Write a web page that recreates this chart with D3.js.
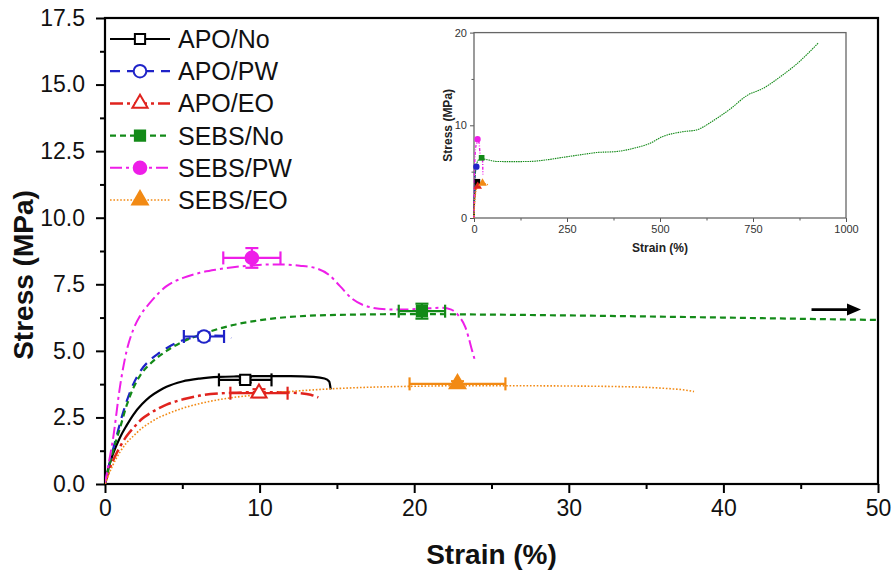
<!DOCTYPE html>
<html>
<head>
<meta charset="utf-8">
<script src="https://cdn.jsdelivr.net/npm/d3@7"></script>
<style>
  body { margin: 0; background: #fff; }
  svg { display: block; font-family: "Liberation Sans", Arial, sans-serif; }
</style>
</head>
<body>
<svg id="chart" width="893" height="572"></svg>
<script>
// ---- data: stress-strain curves (strain in %, stress in MPa) ----
const seriesNames = ["APO/No", "APO/PW", "APO/EO", "SEBS/No", "SEBS/PW", "SEBS/EO"];

const apoNoStrain = [0, 0.2, 0.5, 0.97, 1.4, 1.83, 2.4, 2.9, 3.5, 3.98, 5.0, 6.13, 7.4, 8.5, 10, 12, 13.5, 14.2, 14.5, 14.6];
const apoNoStress = [0, 0.55, 1.1, 1.75, 2.2, 2.6, 3.0, 3.27, 3.5, 3.65, 3.85, 3.96, 4.02, 4.04, 4.05, 4.05, 4.02, 3.96, 3.85, 3.55];

const apoPwStrain = [0, 0.2, 0.45, 0.75, 1.1, 1.4, 1.83, 2.3, 2.9, 3.5, 3.98, 4.5, 5.05, 5.7, 6.4, 7.1, 7.7, 8.17];
const apoPwStress = [0, 0.55, 1.15, 1.8, 2.55, 3.1, 3.75, 4.25, 4.65, 4.92, 5.1, 5.27, 5.4, 5.5, 5.55, 5.57, 5.56, 5.48];

const apoEoStrain = [0, 0.2, 0.5, 0.97, 1.4, 1.83, 2.4, 2.9, 3.5, 3.98, 5.05, 6.13, 7.4, 8.5, 10, 11.5, 12.6, 13.3, 13.8];
const apoEoStress = [0, 0.4, 0.85, 1.4, 1.8, 2.1, 2.45, 2.65, 2.85, 2.98, 3.18, 3.32, 3.4, 3.43, 3.45, 3.44, 3.41, 3.35, 3.25];

const sebsNoStrain = [0, 0.2, 0.5, 0.97, 1.4, 1.83, 2.3, 2.9, 3.5, 3.98, 5.05, 6.13, 7.2, 8.28, 10, 12.6, 16, 20, 25, 30, 40, 50, 60, 100, 150, 200, 240, 300, 329, 383, 437, 470, 508, 560, 598, 643, 690, 733, 778, 822, 867, 926];
const sebsNoStress = [0, 0.5, 1.2, 2.1, 2.95, 3.6, 4.1, 4.5, 4.8, 5.0, 5.35, 5.6, 5.8, 5.97, 6.15, 6.3, 6.36, 6.38, 6.36, 6.33, 6.25, 6.16, 6.1, 6.08, 6.1, 6.3, 6.55, 6.9, 7.06, 7.17, 7.6, 8.0, 8.8, 9.3, 9.5, 10.5, 11.8, 13.2, 14.0, 15.2, 16.6, 18.9];

const sebsPwStrain = [0, 0.2, 0.54, 0.97, 1.4, 1.83, 2.3, 2.9, 3.98, 5.05, 6.13, 7.2, 8.28, 9.35, 10.5, 11.5, 12.6, 13.66, 14.5, 15.2, 16.0, 16.7, 17.3, 18.2, 19.0, 20.5, 21.8, 22.4, 22.9, 23.3, 23.5, 23.75, 23.9];
const sebsPwStress = [0, 0.65, 1.78, 3.66, 5.0, 5.8, 6.35, 6.8, 7.43, 7.74, 7.93, 8.05, 8.14, 8.2, 8.24, 8.24, 8.2, 8.1, 7.85, 7.43, 6.95, 6.72, 6.62, 6.56, 6.55, 6.58, 6.62, 6.55, 6.3, 5.9, 5.54, 5.0, 4.7];

const sebsEoStrain = [0, 0.2, 0.5, 0.97, 1.4, 1.83, 2.4, 2.9, 3.5, 3.98, 5.05, 6.13, 7.2, 8.28, 9.35, 10.5, 12.6, 14.5, 16.9, 20, 23, 26, 30, 33, 35, 36.5, 37.5, 38.1];
const sebsEoStress = [0, 0.3, 0.7, 1.2, 1.55, 1.8, 2.1, 2.3, 2.5, 2.62, 2.85, 3.02, 3.15, 3.25, 3.32, 3.4, 3.5, 3.57, 3.63, 3.67, 3.69, 3.69, 3.68, 3.66, 3.63, 3.58, 3.53, 3.47];

// mean values with standard deviations (order follows seriesNames)
const meanStrain = [9.07, 6.4, 9.96, 20.5, 9.5, 22.8];
const meanStress = [3.91, 5.54, 3.41, 6.49, 8.49, 3.76];
const strainErr = [1.7, 1.3, 1.85, 1.5, 1.85, 3.1];
const stressErr = [0.1, 0.15, 0.15, 0.28, 0.37, 0.1];

// axis ticks
const yTicks = [0, 2.5, 5, 7.5, 10, 12.5, 15, 17.5];
const xTicks = [0, 10, 20, 30, 40, 50];
const insetXTicks = [0, 250, 500, 750, 1000];
const insetYTicks = [0, 10, 20];

// arrow pointing to the continuation of SEBS/No beyond 50 %
const arrowStrain = [45.7, 48.9];
const arrowStress = 6.55;

// ---- styles ----
const seriesStyle = [
  { color: "#000000", dash: null,         width: 2.2, symbol: d3.symbolSquare,   size: 105, filled: false },
  { color: "#1f23c8", dash: "10,7",       width: 2.2, symbol: d3.symbolCircle,   size: 125, filled: false },
  { color: "#e0231e", dash: "13,4,3,4",   width: 2.5, symbol: d3.symbolTriangle, size: 100, filled: false },
  { color: "#138a18", dash: "6,4",        width: 2.2, symbol: d3.symbolSquare,   size: 105, filled: true  },
  { color: "#ee1ee8", dash: "12,4,3,4",   width: 2.0, symbol: d3.symbolCircle,   size: 125, filled: true  },
  { color: "#f28a14", dash: "1.6,1.8",    width: 1.6, symbol: d3.symbolTriangle, size: 105, filled: true  }
];

const curves = [
  [apoNoStrain, apoNoStress],
  [apoPwStrain, apoPwStress],
  [apoEoStrain, apoEoStress],
  [sebsNoStrain, sebsNoStress],
  [sebsPwStrain, sebsPwStress],
  [sebsEoStrain, sebsEoStress]
].map(([xs, ys]) => xs.map((v, i) => [v, ys[i]]));

const svg = d3.select("#chart");

// ---- main plot ----
const x = d3.scaleLinear().domain([0, 50]).range([105, 878]);
const y = d3.scaleLinear().domain([0, 17.5]).range([484, 18]);

svg.append("defs").append("clipPath").attr("id", "mainClip")
  .append("rect")
  .attr("x", x(0)).attr("y", y(17.5))
  .attr("width", x(50) - x(0)).attr("height", y(0) - y(17.5));

// minor ticks
const yMinor = d3.range(1.25, 17.5, 2.5);
const xMinor = d3.range(5, 50, 10);

const yAxis = svg.append("g")
  .attr("transform", `translate(${x(0)},0)`)
  .call(d3.axisLeft(y).tickValues(yTicks).tickFormat(d3.format(".1f")).tickSize(9).tickPadding(11));
const xAxis = svg.append("g")
  .attr("transform", `translate(0,${y(0)})`)
  .call(d3.axisBottom(x).tickValues(xTicks).tickFormat(d3.format("d")).tickSize(9).tickPadding(7));
svg.append("g")
  .attr("transform", `translate(${x(0)},0)`)
  .call(d3.axisLeft(y).tickValues(yMinor).tickFormat("").tickSize(5));
svg.append("g")
  .attr("transform", `translate(0,${y(0)})`)
  .call(d3.axisBottom(x).tickValues(xMinor).tickFormat("").tickSize(5));

svg.selectAll(".domain").remove();
svg.selectAll(".tick line").attr("stroke", "#000").attr("stroke-width", 2);
[yAxis, xAxis].forEach(g => g.selectAll(".tick text")
  .attr("font-size", 23).attr("fill", "#111")
  .attr("font-family", "'Liberation Sans', Arial, sans-serif"));

// frame
svg.append("rect")
  .attr("x", x(0)).attr("y", y(17.5))
  .attr("width", x(50) - x(0)).attr("height", y(0) - y(17.5))
  .attr("fill", "none").attr("stroke", "#000").attr("stroke-width", 2.2);

// axis titles
svg.append("text")
  .attr("x", (x(0) + x(50)) / 2).attr("y", 564)
  .attr("text-anchor", "middle")
  .attr("font-size", 28).attr("font-weight", "bold").attr("fill", "#111")
  .text("Strain (%)");
svg.append("text")
  .attr("transform", `translate(33,${(y(0) + y(17.5)) / 2 + 24}) rotate(-90)`)
  .attr("text-anchor", "middle")
  .attr("font-size", 28).attr("font-weight", "bold").attr("fill", "#111")
  .text("Stress (MPa)");

// curves
const mainLine = d3.line().x(d => x(d[0])).y(d => y(d[1])).curve(d3.curveMonotoneX);
const plotG = svg.append("g").attr("clip-path", "url(#mainClip)");
curves.forEach((pts, i) => {
  const s = seriesStyle[i];
  plotG.append("path")
    .attr("d", mainLine(pts))
    .attr("fill", "none")
    .attr("stroke", s.color)
    .attr("stroke-width", s.width)
    .attr("stroke-dasharray", s.dash);
});

// error bars and markers
const capHalf = 6.5;
seriesNames.forEach((name, i) => {
  const s = seriesStyle[i];
  const g = svg.append("g").attr("stroke", s.color).attr("stroke-width", 2.2);
  const cx = x(meanStrain[i]), cy = y(meanStress[i]);
  const x0 = x(meanStrain[i] - strainErr[i]), x1 = x(meanStrain[i] + strainErr[i]);
  const y0 = y(meanStress[i] - stressErr[i]), y1 = y(meanStress[i] + stressErr[i]);
  g.append("line").attr("x1", x0).attr("x2", x1).attr("y1", cy).attr("y2", cy);
  g.append("line").attr("x1", x0).attr("x2", x0).attr("y1", cy - capHalf).attr("y2", cy + capHalf);
  g.append("line").attr("x1", x1).attr("x2", x1).attr("y1", cy - capHalf).attr("y2", cy + capHalf);
  g.append("line").attr("x1", cx).attr("x2", cx).attr("y1", y0).attr("y2", y1);
  g.append("line").attr("x1", cx - capHalf).attr("x2", cx + capHalf).attr("y1", y0).attr("y2", y0);
  g.append("line").attr("x1", cx - capHalf).attr("x2", cx + capHalf).attr("y1", y1).attr("y2", y1);
  g.append("path")
    .attr("d", d3.symbol().type(s.symbol).size(s.size)())
    .attr("transform", `translate(${cx},${cy})`)
    .attr("fill", s.filled ? s.color : "#fff")
    .attr("stroke-width", 2);
});

// arrow
svg.append("line")
  .attr("x1", x(arrowStrain[0])).attr("x2", x(arrowStrain[1]) - 10)
  .attr("y1", y(arrowStress)).attr("y2", y(arrowStress))
  .attr("stroke", "#000").attr("stroke-width", 2.6);
svg.append("path")
  .attr("d", `M${x(arrowStrain[1])},${y(arrowStress)} l-14,-6 l0,12 z`)
  .attr("fill", "#000");

// legend
const legend = svg.append("g");
seriesNames.forEach((name, i) => {
  const s = seriesStyle[i];
  const ly = 39 + i * 32.2;
  const row = legend.append("g").attr("transform", `translate(0,${ly})`);
  row.append("line")
    .attr("x1", 110).attr("x2", 170).attr("y1", 0).attr("y2", 0)
    .attr("stroke", s.color).attr("stroke-width", s.width)
    .attr("stroke-dasharray", s.dash);
  row.append("path")
    .attr("d", d3.symbol().type(s.symbol).size(s.size)())
    .attr("transform", "translate(140,0)")
    .attr("fill", s.filled ? s.color : "#fff")
    .attr("stroke", s.color).attr("stroke-width", 2);
  row.append("text")
    .attr("x", 178).attr("y", 9)
    .attr("font-size", 25).attr("fill", "#111")
    .text(name);
});

// ---- inset: full strain range ----
const xi = d3.scaleLinear().domain([0, 1000]).range([474, 846]);
const yi = d3.scaleLinear().domain([0, 20]).range([218, 32.6]);
const inset = svg.append("g");

const ixAxis = inset.append("g").attr("transform", `translate(0,${yi(0)})`)
  .call(d3.axisBottom(xi).tickValues(insetXTicks).tickFormat(d3.format("d")).tickSize(4).tickPadding(3));
inset.append("g").attr("transform", `translate(0,${yi(0)})`)
  .call(d3.axisBottom(xi).tickValues(d3.range(125, 1000, 250)).tickFormat("").tickSize(2.5));
const iyAxis = inset.append("g").attr("transform", `translate(${xi(0)},0)`)
  .call(d3.axisLeft(yi).tickValues(insetYTicks).tickFormat(d3.format("d")).tickSize(4).tickPadding(3));
inset.append("g").attr("transform", `translate(${xi(0)},0)`)
  .call(d3.axisLeft(yi).tickValues([5, 15]).tickFormat("").tickSize(2.5));
inset.selectAll(".domain").remove();
inset.selectAll(".tick line").attr("stroke", "#555").attr("stroke-width", 1);
[ixAxis, iyAxis].forEach(g => g.selectAll(".tick text")
  .attr("font-size", 11).attr("fill", "#333")
  .attr("font-family", "'Liberation Sans', Arial, sans-serif"));

inset.append("rect")
  .attr("x", xi(0)).attr("y", yi(20))
  .attr("width", xi(1000) - xi(0)).attr("height", yi(0) - yi(20))
  .attr("fill", "none").attr("stroke", "#666").attr("stroke-width", 1.3);

inset.append("text")
  .attr("x", (xi(0) + xi(1000)) / 2).attr("y", 252)
  .attr("text-anchor", "middle")
  .attr("font-size", 12).attr("font-weight", "bold").attr("fill", "#222")
  .text("Strain (%)");
inset.append("text")
  .attr("transform", `translate(452,${(yi(0) + yi(20)) / 2}) rotate(-90)`)
  .attr("text-anchor", "middle")
  .attr("font-size", 12).attr("font-weight", "bold").attr("fill", "#222")
  .text("Stress (MPa)");

const insetLine = d3.line().x(d => xi(d[0])).y(d => yi(d[1])).curve(d3.curveMonotoneX);
const insetDash = [null, "3,2", "3,1.5,1,1.5", "1.5,0.8", "3,1.5,1,1.5", "1,1"];
curves.forEach((pts, i) => {
  inset.append("path")
    .attr("d", insetLine(pts))
    .attr("fill", "none")
    .attr("stroke", seriesStyle[i].color)
    .attr("stroke-width", i === 3 ? 1.1 : 1.4)
    .attr("stroke-dasharray", insetDash[i]);
});
seriesNames.forEach((name, i) => {
  const s = seriesStyle[i];
  inset.append("path")
    .attr("d", d3.symbol().type(s.symbol).size(32)())
    .attr("transform", `translate(${xi(meanStrain[i])},${yi(meanStress[i])})`)
    .attr("fill", s.color);
});
</script>
</body>
</html>
